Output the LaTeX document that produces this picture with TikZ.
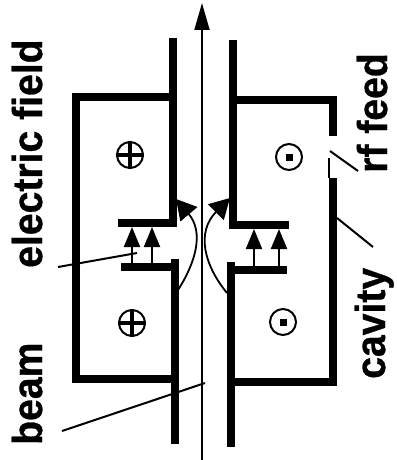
\documentclass[tikz,border=0pt]{standalone}
\usepackage{fontspec}
\usepackage{graphicx}
\setmainfont{Liberation Sans}
\newfontfamily\labfont[FakeBold=0.8]{Liberation Sans Bold}
\usetikzlibrary{arrows.meta}
\newcommand{\lablook}[1]{\scalebox{1.03}[1.1]{\labfont\fontsize{38}{38}\selectfont #1}}
\tikzset{
  wall/.style={line width=8pt,line join=miter,line cap=butt},
  pointer/.style={line width=2pt},
  fieldarrow/.style={line width=2pt,-{Triangle[length=20pt,width=16pt]}},
  curvearrow/.style={line width=1.8pt,-{Triangle[length=20pt,width=22pt]}},
  beamarrow/.style={line width=1.8pt,-{Triangle[length=27pt,width=15pt]}},
  lab/.style={rotate=90,anchor=base west,inner sep=0pt},
  sym/.style={circle,draw,line width=2pt,minimum size=26pt,inner sep=0pt}
}
\begin{document}
\begin{tikzpicture}[x=1pt,y=-1pt]
\useasboundingbox (0,0) rectangle (396,460);
% walls
\draw[wall] (173,38) -- (173,227);
\draw[wall] (173,97) -- (76,97) -- (76,379) -- (177,379);
\draw[wall] (118,222.5) -- (177,222.5);
\draw[wall] (121,266.5) -- (178,266.5);
\draw[wall] (174.5,259) -- (174.5,444);
\draw[wall] (233,40) -- (233,229);
\draw[wall] (229,100) -- (332.5,100) -- (332.5,136);
\draw[wall] (332.5,178) -- (332.5,381.5) -- (229,381.5);
\draw[line width=2pt] (329,158) -- (329,178);
\draw[wall] (229,225) -- (289,225);
\draw[wall] (235,269.5) -- (287,269.5);
\draw[wall] (231,262) -- (231,447);
% beam
\coordinate (bs) at (202,460);
\coordinate (bt) at (202,3);
\draw[beamarrow] (bs) -- (bt);
% field arrows
\draw[fieldarrow] (132,263) -- (132,227);
\draw[fieldarrow] (152,263) -- (152,227);
\draw[fieldarrow] (254,266) -- (254,229);
\draw[fieldarrow] (279,266) -- (279,229);
% curved arrows
\draw[curvearrow] (178,290) .. controls (196,262) and (204,232) .. (176,199);
\draw[curvearrow] (227,293) .. controls (204,265) and (196,232) .. (230,198);
% symbols
\node[sym] (s1) at (130,155) {};
\draw[line width=3.5pt] (s1.west) -- (s1.east) (s1.north) -- (s1.south);
\node[sym] (s2) at (132,323) {};
\draw[line width=3.5pt] (s2.west) -- (s2.east) (s2.north) -- (s2.south);
\node[sym] (s3) at (289,157) {};
\fill (s3.center) ++(-3.5,-3.5) rectangle ++(7,7);
\node[sym] (s4) at (283,322) {};
\fill (s4.center) ++(-3.5,-3.5) rectangle ++(7,7);
% labels
\node[lab] (lf) at (42,268) {\lablook{electric field}};
\node[lab] (lb) at (42,445) {\lablook{beam}};
\node[lab] (lr) at (387,173) {\lablook{rf feed}};
\node[lab] (lc) at (385,379) {\lablook{cavity}};
% pointers
\coordinate (p1a) at (58,267); \coordinate (p1b) at (137,253);
\coordinate (p2a) at (62,431); \coordinate (p2b) at (205,383);
\coordinate (p3a) at (330,151); \coordinate (p3b) at (358,171);
\coordinate (p4a) at (337,218); \coordinate (p4b) at (373,247);
\draw[pointer] (p1a) -- (p1b);
\draw[pointer] (p2a) -- (p2b);
\draw[pointer] (p3a) -- (p3b);
\draw[pointer] (p4a) -- (p4b);
\end{tikzpicture}
\end{document}
